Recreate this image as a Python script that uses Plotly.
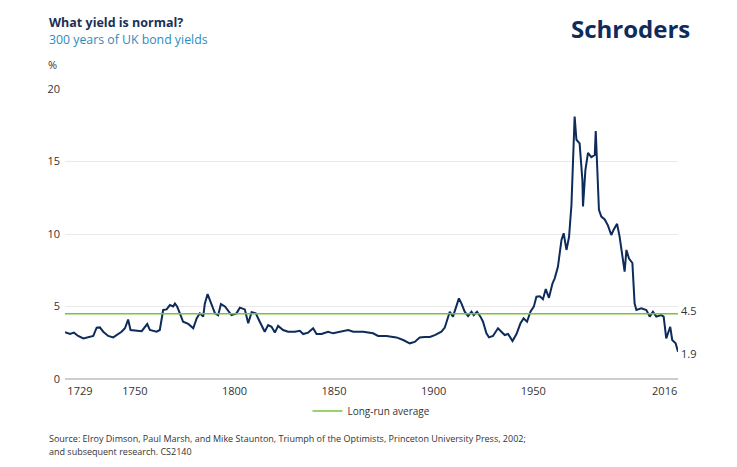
import plotly.graph_objects as go

# yields (year, % yield)
years = [
    1714.9, 1717.4, 1719.4, 1721.5, 1724.1, 1727.4, 1729.1, 1730.8, 1732.4, 1734.1,
    1736.6, 1739.1, 1740.8, 1743.3, 1745.0, 1746.6, 1747.8, 1750.0, 1753.4, 1756.2,
    1757.5, 1760.9, 1762.5, 1764.2, 1765.9, 1767.6, 1769.2, 1770.1, 1771.2, 1772.6,
    1774.2, 1776.8, 1779.3, 1781.0, 1782.6, 1784.3, 1785.1, 1786.5, 1788.5, 1790.2,
    1791.8, 1793.2, 1795.2, 1798.5, 1801.0, 1802.7, 1805.2, 1806.9, 1808.6, 1810.7,
    1812.7, 1815.2, 1816.9, 1818.6, 1820.3, 1821.9, 1824.4, 1826.9, 1830.3, 1832.8,
    1834.5, 1837.0, 1839.5, 1841.2, 1843.7, 1847.0, 1849.5, 1852.9, 1857.1, 1859.6,
    1864.6, 1869.6, 1872.1, 1876.3, 1881.3, 1884.7, 1888.0, 1890.5, 1893.0, 1895.5,
    1898.1, 1900.6, 1903.9, 1905.6, 1907.2, 1908.1, 1909.7, 1911.5, 1912.7, 1914.0,
    1915.6, 1917.3, 1919.0, 1920.1, 1921.8, 1923.5, 1924.8, 1926.5, 1927.8, 1929.8,
    1932.3, 1934.0, 1935.7, 1937.4, 1939.6, 1941.6, 1943.6, 1945.2, 1946.9, 1948.6,
    1950.3, 1951.6, 1953.3, 1954.9, 1956.3, 1957.9, 1959.7, 1960.8, 1962.4, 1964.2,
    1965.3, 1966.7, 1968.0, 1969.2, 1970.0, 1970.8, 1971.7, 1973.3, 1974.7, 1975.0,
    1976.2, 1977.5, 1979.2, 1980.9, 1981.4, 1982.0, 1983.0, 1984.2, 1985.9, 1987.5,
    1989.2, 1990.4, 1992.1, 1993.4, 1994.8, 1995.9, 1996.8, 1998.1, 1999.8, 2000.9,
    2001.8, 2004.3, 2006.8, 2008.5, 2010.1, 2011.8, 2014.3, 2015.5, 2016.8, 2018.8,
    2019.8, 2021.5, 2022.7,
]
yields = [
    3.22, 3.10, 3.20, 2.97, 2.80, 2.92, 2.97, 3.54, 3.56, 3.26,
    2.97, 2.87, 3.03, 3.26, 3.50, 4.10, 3.38, 3.33, 3.30, 3.79,
    3.38, 3.26, 3.38, 4.76, 4.80, 5.10, 5.00, 5.20, 5.00, 4.53,
    3.95, 3.80, 3.50, 4.18, 4.53, 4.30, 5.20, 5.86, 5.10, 4.53,
    4.40, 5.17, 5.00, 4.41, 4.53, 4.92, 4.80, 3.84, 4.60, 4.53,
    3.95, 3.26, 3.72, 3.60, 3.20, 3.66, 3.38, 3.26, 3.26, 3.33,
    3.10, 3.20, 3.50, 3.10, 3.10, 3.26, 3.15, 3.26, 3.38, 3.26,
    3.26, 3.15, 2.97, 2.97, 2.87, 2.69, 2.46, 2.56, 2.87, 2.90,
    2.90, 3.03, 3.26, 3.55, 4.32, 4.64, 4.30, 5.10, 5.56, 5.20,
    4.64, 4.34, 4.64, 4.41, 4.64, 4.30, 3.95, 3.15, 2.87, 2.97,
    3.50, 3.26, 3.03, 3.10, 2.62, 3.10, 3.84, 4.18, 3.95, 4.64,
    4.99, 5.68, 5.70, 5.50, 6.20, 5.60, 6.60, 6.94, 7.74, 9.59,
    10.05, 8.90, 9.81, 12.0, 15.1, 18.1, 16.5, 16.25, 13.7, 11.9,
    14.4, 15.6, 15.3, 15.45, 17.1, 15.2, 11.66, 11.2, 11.0, 10.6,
    9.93, 10.3, 10.7, 9.8, 8.43, 7.4, 8.9, 8.3, 8.0, 5.22,
    4.76, 4.87, 4.76, 4.30, 4.64, 4.30, 4.41, 4.30, 2.80, 3.60,
    2.69, 2.46, 1.88,
]
long_run_avg = 4.5

tick_pos = [1722.4, 1750, 1800, 1850, 1900, 1950, 2016]
tick_text = ['1729', '1750', '1800', '1850', '1900', '1950', '2016']

NAVY = '#0d2b5b'
GREEN = '#7cc142'
FONT = 'Open Sans'

fig = go.Figure()
fig.add_trace(go.Scatter(x=years, y=yields, mode='lines', showlegend=False,
                         line=dict(color=NAVY, width=2)))
fig.add_trace(go.Scatter(x=[years[0], years[-1]], y=[long_run_avg, long_run_avg],
                         mode='lines', name='Long-run average',
                         line=dict(color=GREEN, width=1.5)))

# page has an 8px body margin, so the margins are trimmed to land the plot area in place
fig.update_layout(
    width=737, height=467,
    margin=dict(l=57, r=67, t=81, b=96),
    paper_bgcolor='white', plot_bgcolor='white',
    font=dict(family=FONT, size=11, color='#333333'),
    legend=dict(orientation='h', x=0.5, xanchor='center', y=-0.11, yanchor='middle',
                font=dict(size=10, color='#333333'), itemwidth=30),
    xaxis=dict(range=[years[0], years[-1]], tickvals=tick_pos, ticktext=tick_text,
               showgrid=False, zeroline=False, showline=False, ticks='',
               ticklabelstandoff=4),
    yaxis=dict(range=[0, 20], tickvals=[0, 5, 10, 15, 20], gridcolor='#e9e9e9',
               zeroline=True, zerolinecolor='#cdcdcd', zerolinewidth=1.5,
               showline=False, ticks='', ticklabelstandoff=4),
)

ann = [
    dict(text='<b>What yield is normal?</b>', x=-0.0294, y=1.228,
         font=dict(size=12.5, color='#1b2f57')),
    dict(text='300 years of UK bond yields', x=-0.0294, y=1.172,
         font=dict(size=12.3, color='#2a8dbf')),
    dict(text='%', x=-0.031, y=1.083, font=dict(size=11, color='#333333')),
    dict(text='<b>Schroders</b>', x=0.822, y=1.21,
         font=dict(size=24, color='#0d2b5b')),
    dict(text='Source: Elroy Dimson, Paul Marsh, and Mike Staunton, Triumph of the Optimists, '
              'Princeton University Press, 2002;', x=-0.0294, y=-0.205,
         font=dict(size=9, color='#333333')),
    dict(text='and subsequent research. CS2140', x=-0.0294, y=-0.25,
         font=dict(size=9, color='#333333')),
]
for a in ann:
    fig.add_annotation(xref='paper', yref='paper', xanchor='left', yanchor='middle',
                       showarrow=False, **a)

fig.add_annotation(x=years[-1], y=long_run_avg, text=f'{long_run_avg:.1f}', xanchor='left',
                   yanchor='middle', xshift=1, yshift=3, showarrow=False,
                   font=dict(size=11, color='#333333'))
fig.add_annotation(x=years[-1], y=yields[-1], text=f'{yields[-1]:.1f}', xanchor='left',
                   yanchor='middle', xshift=1, yshift=-2, showarrow=False,
                   font=dict(size=11, color='#333333'))

fig.write_html('out.html')
